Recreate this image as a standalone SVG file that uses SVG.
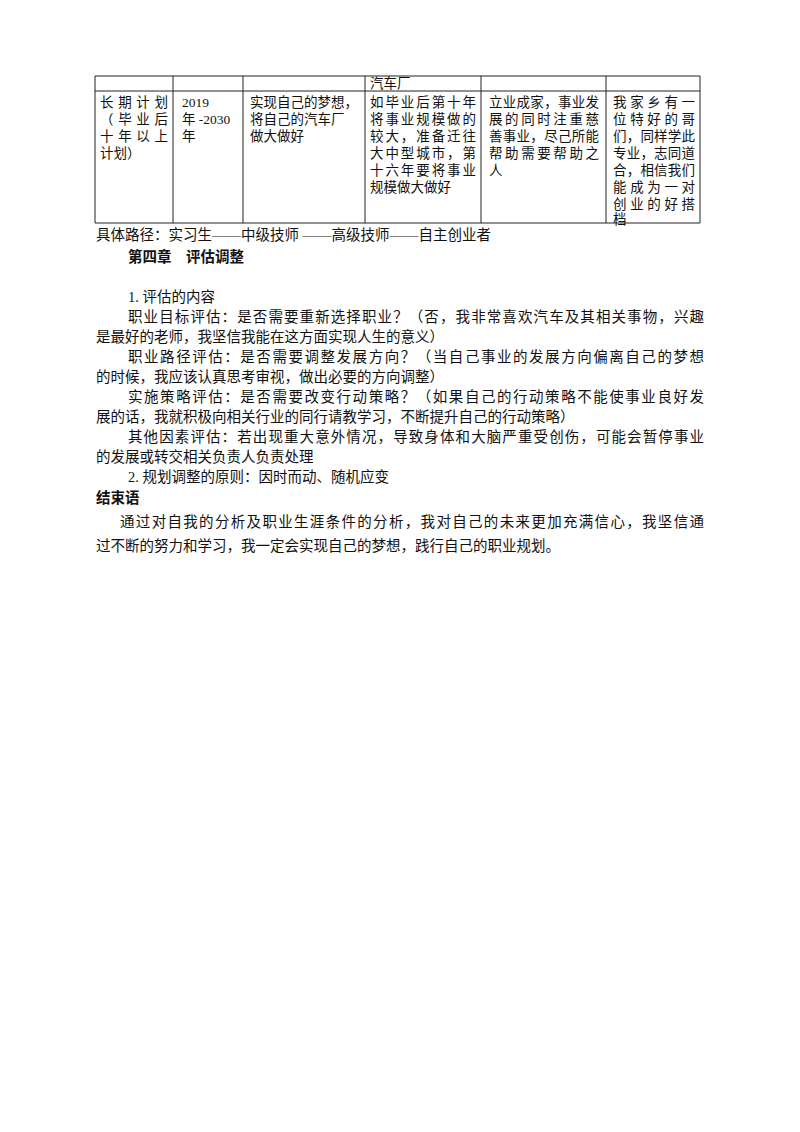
<svg xmlns="http://www.w3.org/2000/svg" width="800" height="1132" viewBox="0 0 800 1132">
<style>
text{font-family:"Liberation Serif","Noto Sans CJK SC",serif;font-size:13.5px;fill:#111}
.b{font-size:14.5px}
.h{font-weight:bold;font-size:14.5px}
line{stroke:#222;stroke-width:1}
</style>
<rect width="800" height="1132" fill="#fff"/>
<g id="table">
<line x1="95" y1="76" x2="700" y2="76"/>
<line x1="95" y1="91" x2="700" y2="91"/>
<line x1="95" y1="223" x2="700" y2="223"/>
<line x1="95" y1="76" x2="95" y2="223"/>
<line x1="173" y1="76" x2="173" y2="223"/>
<line x1="243" y1="76" x2="243" y2="223"/>
<line x1="365" y1="76" x2="365" y2="223"/>
<line x1="481" y1="76" x2="481" y2="223"/>
<line x1="606" y1="76" x2="606" y2="223"/>
<line x1="700" y1="76" x2="700" y2="223"/>
<text x="370" y="88">汽车厂</text>
<text x="100" y="107" textLength="68">长期计划</text>
<text x="100" y="124" textLength="68">（毕业后</text>
<text x="100" y="141" textLength="68">十年以上</text>
<text x="100" y="158">计划）</text>
<text x="182" y="107">2019</text>
<text x="182" y="124">年 -2030</text>
<text x="182" y="141">年</text>
<text x="250" y="107">实现自己的梦想，</text>
<text x="250" y="124">将自己的汽车厂</text>
<text x="250" y="141">做大做好</text>
<text x="370" y="107" textLength="106">如毕业后第十年</text>
<text x="370" y="124" textLength="106">将事业规模做的</text>
<text x="370" y="141" textLength="106">较大，准备迁往</text>
<text x="370" y="158" textLength="106">大中型城市，第</text>
<text x="370" y="175" textLength="106">十六年要将事业</text>
<text x="370" y="192">规模做大做好</text>
<text x="489" y="107" textLength="110">立业成家，事业发</text>
<text x="489" y="124" textLength="110">展的同时注重慈</text>
<text x="489" y="141" textLength="110">善事业，尽己所能</text>
<text x="489" y="158" textLength="110">帮助需要帮助之</text>
<text x="489" y="175">人</text>
<text x="613" y="107" textLength="82">我家乡有一</text>
<text x="613" y="124" textLength="82">位特好的哥</text>
<text x="613" y="141" textLength="82">们，同样学此</text>
<text x="613" y="158" textLength="82">专业，志同道</text>
<text x="613" y="175" textLength="82">合，相信我们</text>
<text x="613" y="192" textLength="82">能成为一对</text>
<text x="613" y="209" textLength="82">创业的好搭</text>
<text x="613" y="224">档</text>
</g>
<g id="body">
<text class="b" x="96" y="240">具体路径：实习生——中级技师 ——高级技师——自主创业者</text>
<text class="h" x="128" y="262">第四章　评估调整</text>
<text class="b" x="128" y="302">1. 评估的内容</text>
<text class="b" x="128" y="322" textLength="576">职业目标评估：是否需要重新选择职业？（否，我非常喜欢汽车及其相关事物，兴趣</text>
<text class="b" x="96" y="342">是最好的老师，我坚信我能在这方面实现人生的意义）</text>
<text class="b" x="128" y="362" textLength="576">职业路径评估：是否需要调整发展方向？（当自己事业的发展方向偏离自己的梦想</text>
<text class="b" x="96" y="382">的时候，我应该认真思考审视，做出必要的方向调整）</text>
<text class="b" x="128" y="402" textLength="576">实施策略评估：是否需要改变行动策略？（如果自己的行动策略不能使事业良好发</text>
<text class="b" x="96" y="422">展的话，我就积极向相关行业的同行请教学习，不断提升自己的行动策略）</text>
<text class="b" x="128" y="442" textLength="576">其他因素评估：若出现重大意外情况，导致身体和大脑严重受创伤，可能会暂停事业</text>
<text class="b" x="96" y="462">的发展或转交相关负责人负责处理</text>
<text class="b" x="128" y="482">2. 规划调整的原则：因时而动、随机应变</text>
<text class="h" x="96" y="503">结束语</text>
<text class="b" x="120" y="527" textLength="584">通过对自我的分析及职业生涯条件的分析，我对自己的未来更加充满信心，我坚信通</text>
<text class="b" x="96" y="551">过不断的努力和学习，我一定会实现自己的梦想，践行自己的职业规划。</text>
</g>
</svg>
